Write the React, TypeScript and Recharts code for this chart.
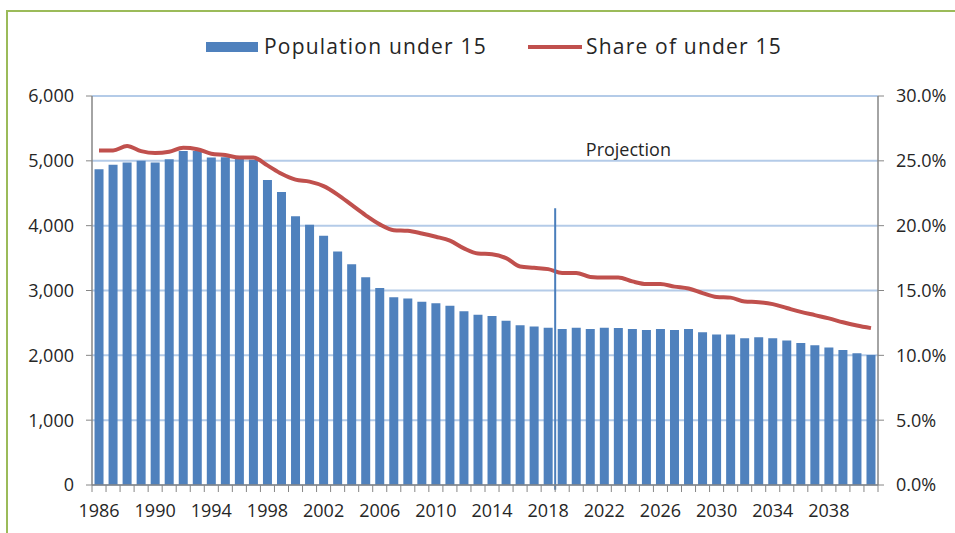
import React from 'react';
import {
  ComposedChart,
  Bar,
  Line,
  XAxis,
  YAxis,
  CartesianGrid,
  ReferenceLine,
  ReferenceDot,
  Legend,
} from 'recharts';

const years = [
  '1986', '1987', '1988', '1989', '1990', '1991', '1992', '1993', '1994', '1995',
  '1996', '1997', '1998', '1999', '2000', '2001', '2002', '2003', '2004', '2005',
  '2006', '2007', '2008', '2009', '2010', '2011', '2012', '2013', '2014', '2015',
  '2016', '2017', '2018', '2019', '2020', '2021', '2022', '2023', '2024', '2025',
  '2026', '2027', '2028', '2029', '2030', '2031', '2032', '2033', '2034', '2035',
  '2036', '2037', '2038', '2039', '2040', '2041',
];

const populationUnder15 = [
  4870, 4940, 4975, 5000, 4975, 5025, 5150, 5150, 5050, 5055,
  5035, 5015, 4705, 4520, 4145, 4015, 3845, 3600, 3405, 3205,
  3040, 2895, 2875, 2825, 2805, 2765, 2680, 2625, 2605, 2535,
  2465, 2445, 2425, 2405, 2425, 2405, 2425, 2423, 2407, 2392,
  2407, 2392, 2407, 2356, 2320, 2320, 2264, 2279, 2264, 2227,
  2191, 2156, 2119, 2083, 2032, 2006,
];

const shareUnder15 = [
  25.8, 25.8, 26.15, 25.75, 25.6, 25.7, 26.0, 25.9, 25.55, 25.45,
  25.25, 25.25, 24.65, 24.0, 23.55, 23.4, 23.05, 22.4, 21.6, 20.8,
  20.1, 19.65, 19.6, 19.4, 19.15, 18.85, 18.25, 17.85, 17.8, 17.5,
  16.85, 16.75, 16.65, 16.35, 16.35, 16.05, 16.0, 16.0, 15.7, 15.5,
  15.5, 15.3, 15.15, 14.8, 14.5, 14.45, 14.15, 14.1, 13.95, 13.65,
  13.35, 13.1, 12.85, 12.55, 12.3, 12.1,
];

const leftTicks = [0, 1000, 2000, 3000, 4000, 5000, 6000];
const rightTicks = [0, 5, 10, 15, 20, 25, 30];
const seriesNames = ['Population under 15', 'Share of under 15'];
const projectionYear = '2019';
const projectionTop = 4270;
const projectionBottom = -75;
const projectionLabel = 'Projection';
const projectionLabelYear = '2024';
const projectionLabelValue = 5170;

const data = years.map((year, i) => ({
  year,
  population: populationUnder15[i],
  share: shareUnder15[i],
}));

const FONT = '"Open Sans", "Noto Sans", sans-serif';
const BLUE = '#4F81BD';
const RED = '#C0504D';
const AXIS = '#868686';
const TEXT = '#262626';
const GRID = '#b4cbe8';

const LegendContent = (props: any) => {
  const p = props.payload || [];
  const barName = (p.find((e: any) => e.dataKey === 'population') || {}).value || seriesNames[0];
  const lineName = (p.find((e: any) => e.dataKey === 'share') || {}).value || seriesNames[1];
  const textStyle: React.CSSProperties = {
    position: 'absolute',
    top: 0,
    lineHeight: '30px',
    whiteSpace: 'nowrap',
    letterSpacing: '1.2px',
  };
  return (
    <div style={{ position: 'relative', width: 955, height: 30, fontFamily: FONT, fontSize: 21, color: TEXT }}>
      <div style={{ position: 'absolute', left: 206, top: 11, width: 52, height: 10, background: BLUE }} />
      <span style={{ ...textStyle, left: 264 }}>{barName}</span>
      <div style={{ position: 'absolute', left: 528, top: 14, width: 54, height: 4, background: RED }} />
      <span style={{ ...textStyle, left: 586 }}>{lineName}</span>
    </div>
  );
};

const XTick = (props: any) => {
  const { x, y, payload, index } = props;
  const off = payload && payload.offset ? payload.offset : 7;
  const isLast = index === years.length - 1;
  return (
    <g>
      <line x1={x - off} x2={x - off} y1={y} y2={y + 7} stroke={AXIS} strokeWidth={1} />
      {isLast ? <line x1={x + off} x2={x + off} y1={y} y2={y + 7} stroke={AXIS} strokeWidth={1} /> : null}
      {index % 4 === 0 ? (
        <text x={x} y={y + 32} textAnchor="middle" fontFamily={FONT} fontSize={18} fill={TEXT}>
          {payload.value}
        </text>
      ) : null}
    </g>
  );
};

export default function App() {
  return (
    <div style={{ position: 'absolute', left: 0, top: 0, width: 955, height: 533, background: '#fff', overflow: 'hidden' }}>
      <div
        style={{
          position: 'absolute',
          left: 6,
          top: 10,
          width: 970,
          height: 540,
          borderTop: '2px solid #9BBB59',
          borderLeft: '2px solid #9BBB59',
        }}
      />
      <div style={{ position: 'absolute', left: 0, top: 0 }}>
        <ComposedChart
          width={955}
          height={533}
          data={data}
          margin={{ top: 66, right: 0, bottom: 18, left: 0 }}
          barCategoryGap="18%"
        >
          <Legend
            verticalAlign="top"
            align="left"
            content={LegendContent}
            wrapperStyle={{ top: 31, left: 0, width: 955, height: 30 }}
          />
          <CartesianGrid yAxisId="left" vertical={false} stroke={GRID} strokeWidth={2} />
          <XAxis
            dataKey="year"
            interval={0}
            height={30}
            tickLine={false}
            tickSize={0}
            tickMargin={0}
            axisLine={{ stroke: AXIS, strokeWidth: 1.5 }}
            tick={<XTick />}
          />
          <YAxis
            yAxisId="left"
            orientation="left"
            width={92}
            domain={[0, 6000]}
            ticks={leftTicks}
            interval={0}
            tickFormatter={(v: number) => v.toLocaleString('en-US')}
            tick={{ fontFamily: FONT, fontSize: 18, fill: TEXT }}
            tickLine={{ stroke: AXIS }}
            tickSize={6}
            tickMargin={12}
            axisLine={{ stroke: AXIS, strokeWidth: 1.5 }}
          />
          <YAxis
            yAxisId="right"
            orientation="right"
            width={77}
            domain={[0, 30]}
            ticks={rightTicks}
            interval={0}
            tickFormatter={(v: number) => `${v.toFixed(1)}%`}
            tick={{ fontFamily: FONT, fontSize: 18, fill: TEXT }}
            tickLine={{ stroke: AXIS }}
            tickSize={6}
            tickMargin={12}
            axisLine={{ stroke: AXIS, strokeWidth: 1.5 }}
          />
          <Bar
            yAxisId="left"
            dataKey="population"
            name={seriesNames[0]}
            fill={BLUE}
            isAnimationActive={false}
          />
          <Line
            yAxisId="right"
            dataKey="share"
            name={seriesNames[1]}
            type="monotone"
            stroke={RED}
            strokeWidth={4}
            dot={false}
            activeDot={false}
            isAnimationActive={false}
          />
          <ReferenceLine
            yAxisId="left"
            segment={[
              { x: projectionYear, y: projectionTop },
              { x: projectionYear, y: projectionBottom },
            ]}
            position="start"
            ifOverflow="visible"
            stroke="#4a7ebb"
            strokeWidth={2}
          />
          <ReferenceDot
            yAxisId="left"
            x={projectionLabelYear}
            y={projectionLabelValue}
            r={0}
            fill="none"
            stroke="none"
            label={{ value: projectionLabel, position: 'center', dx: -4, fill: TEXT, fontSize: 18, fontFamily: FONT }}
          />
        </ComposedChart>
      </div>
    </div>
  );
}
